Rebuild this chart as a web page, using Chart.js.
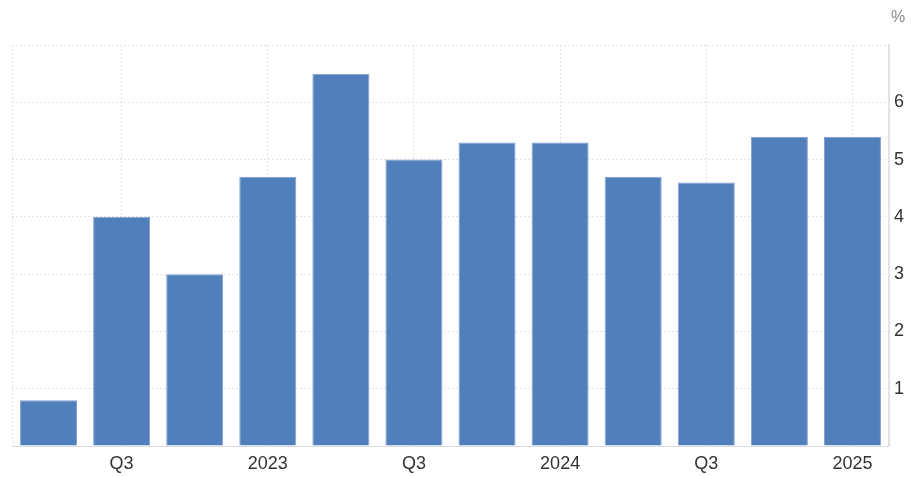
<!DOCTYPE html>
<html>
<head>
<meta charset="utf-8">
<script src="https://cdn.jsdelivr.net/npm/chart.js@4"></script>
<style>
  html, body { margin: 0; padding: 0; background: #fff; }
  #wrap { width: 914px; height: 477px; }
</style>
</head>
<body>
<div id="wrap"><canvas id="barChart"></canvas></div>
<script>
const quarters = ['2022 Q2', '2022 Q3', '2022 Q4', '2023 Q1', '2023 Q2', '2023 Q3',
                  '2023 Q4', '2024 Q1', '2024 Q2', '2024 Q3', '2024 Q4', '2025 Q1'];
const tickLabels = ['', 'Q3', '', '2023', '', 'Q3', '', '2024', '', 'Q3', '', '2025'];
const values = [0.8, 4.0, 3.0, 4.7, 6.5, 5.0, 5.3, 5.3, 4.7, 4.6, 5.4, 5.4];

const gridGrey = '#e3e3e3';

// left dotted edge and the "%" unit label
const extras = {
  id: 'extras',
  beforeDatasetsDraw(chart) {
    const {ctx, chartArea} = chart;
    ctx.save();
    ctx.strokeStyle = gridGrey;
    ctx.lineWidth = 1;
    ctx.setLineDash([2, 2]);
    ctx.beginPath();
    ctx.moveTo(chartArea.left + 0.5, chartArea.top);
    ctx.lineTo(chartArea.left + 0.5, chartArea.bottom);
    ctx.stroke();
    ctx.restore();
  },
  afterDraw(chart) {
    const {ctx} = chart;
    ctx.save();
    ctx.fillStyle = '#8a8a8a';
    ctx.font = '16px "Liberation Sans", Arial, sans-serif';
    ctx.textBaseline = 'middle';
    ctx.fillText('%', 891, 18);
    ctx.restore();
  }
};

const ctx = document.getElementById('barChart');
new Chart(ctx, {
  type: 'bar',
  data: {
    labels: quarters,
    datasets: [{
      label: 'Growth',
      data: values,
      backgroundColor: '#517fbb',
      borderColor: '#7d9fcf',
      borderWidth: 1,
      categoryPercentage: 1,
      barPercentage: 0.78
    }]
  },
  options: {
    responsive: true,
    maintainAspectRatio: false,
    animation: false,
    layout: { padding: { left: 12, top: 45, right: 0, bottom: 0 } },
    plugins: {
      legend: { display: false },
      tooltip: { enabled: false }
    },
    scales: {
      x: {
        offset: true,
        grid: {
          offset: false,
          drawTicks: false,
          color: c => (c.index % 2 === 1 ? gridGrey : 'transparent')
        },
        border: { display: true, color: '#dcdcdc', dash: [2, 2] },
        ticks: {
          autoSkip: false,
          maxRotation: 0,
          padding: 7,
          color: '#333',
          font: { family: '"Liberation Sans", Arial, sans-serif', size: 18 },
          callback: (v, i) => tickLabels[i]
        },
        afterFit: s => { s.height = 31; }
      },
      y: {
        position: 'right',
        min: 0,
        max: 7,
        grid: { drawTicks: false, color: gridGrey },
        border: { display: true, color: '#e3e3e3', width: 2, dash: [2, 2] },
        ticks: {
          stepSize: 1,
          padding: 5,
          color: '#333',
          font: { family: '"Liberation Sans", Arial, sans-serif', size: 18 },
          callback: v => (v === 0 || v === 7 ? '' : v)
        },
        afterFit: s => { s.width = 25; }
      }
    }
  },
  plugins: [extras]
});
</script>
</body>
</html>
